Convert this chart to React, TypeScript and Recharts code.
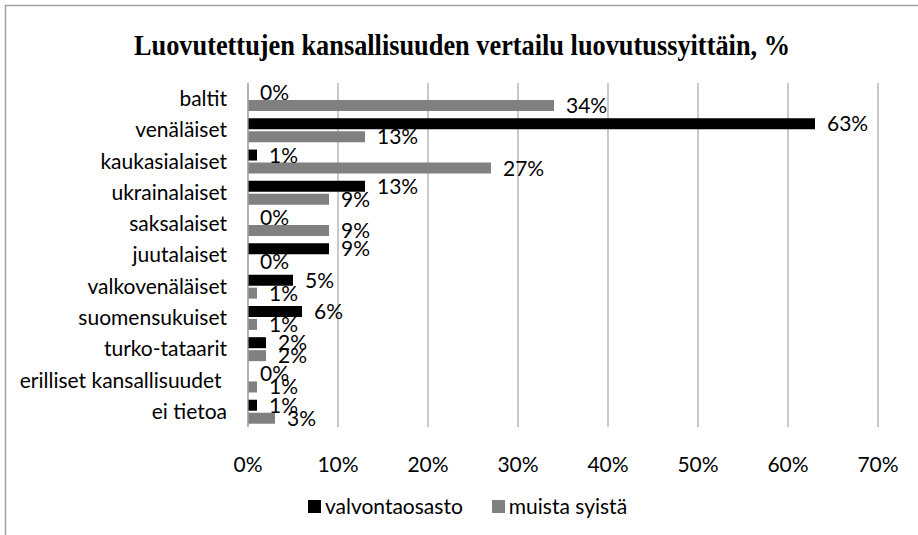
import React from 'react';
import { BarChart, Bar, XAxis, YAxis, CartesianGrid, Legend, LabelList } from 'recharts';

const categories = [
  'baltit',
  'venäläiset',
  'kaukasialaiset',
  'ukrainalaiset',
  'saksalaiset',
  'juutalaiset',
  'valkovenäläiset',
  'suomensukuiset',
  'turko-tataarit',
  'erilliset kansallisuudet\u00a0',
  'ei tietoa',
];
const valvontaosasto = [0, 63, 1, 13, 0, 9, 5, 6, 2, 0, 1];
const muistaSyista = [34, 13, 27, 9, 9, 0, 1, 1, 2, 1, 3];
const xTicks = [0, 10, 20, 30, 40, 50, 60, 70];
const seriesNames = ['valvontaosasto', 'muista syistä'];
const titleText = 'Luovutettujen kansallisuuden vertailu luovutussyittäin, %';

const data = categories.map((name, i) => ({
  name,
  valvontaosasto: valvontaosasto[i],
  muista: muistaSyista[i],
}));

const FONT = 'Lato, "Open Sans", sans-serif';
const FS = 21;

const renderLegend = (props: any) => {
  const payload = [...(props.payload || [])].sort(
    (a: any, b: any) => seriesNames.indexOf(a.value) - seriesNames.indexOf(b.value)
  );
  return (
    <div
      style={{
        display: 'flex',
        justifyContent: 'center',
        alignItems: 'center',
        fontFamily: FONT,
        fontSize: FS,
        color: '#000',
        lineHeight: '26px',
      }}
    >
      {payload.map((entry: any, i: number) => (
        <div key={i} style={{ display: 'flex', alignItems: 'center', marginLeft: i === 0 ? 0 : 29 }}>
          <span style={{ display: 'inline-block', width: 13, height: 13, background: entry.color, marginRight: 4 }} />
          <span>{entry.value}</span>
        </div>
      ))}
    </div>
  );
};

export default function App() {
  return (
    <div style={{ position: 'absolute', left: 0, top: 0, width: 918, height: 535, background: '#fff' }}>
      <svg width={918} height={535} style={{ position: 'absolute', left: 0, top: 0 }}>
        <path d="M5.5 535 V5.5 H918" fill="none" stroke="#a0a0a0" strokeWidth={1.5} />
        <text
          x={134}
          y={55}
          textLength={656}
          lengthAdjust="spacingAndGlyphs"
          fontFamily='"Liberation Serif", "Times New Roman", serif'
          fontWeight="bold"
          fontSize={30}
          fill="#000"
        >
          {titleText}
        </text>
      </svg>
      <div style={{ position: 'absolute', left: 0, top: 0 }}>
        <BarChart
          width={918}
          height={535}
          data={data}
          layout="vertical"
          margin={{ top: 83, right: 40, left: 0, bottom: 48 }}
          barSize={11}
          barGap={2}
        >
          <CartesianGrid horizontal={false} vertical={true} stroke="#a6a6a6" strokeWidth={1.2} />
          <XAxis
            type="number"
            domain={[0, 70]}
            ticks={xTicks}
            tickFormatter={(v: number) => `${v}%`}
            axisLine={false}
            tickLine={false}
            tickSize={0}
            tickMargin={30}
            height={60}
            interval={0}
            tick={{ fontFamily: FONT, fontSize: FS, fill: '#000' }}
          />
          <YAxis
            type="category"
            dataKey="name"
            width={248}
            axisLine={{ stroke: '#a6a6a6', strokeWidth: 1.2 }}
            tickLine={false}
            tickSize={0}
            tickMargin={21}
            interval={0}
            tick={{ fontFamily: FONT, fontSize: FS, fill: '#000' }}
          />
          <Legend
            verticalAlign="middle"
            layout="horizontal"
            align="center"
            content={renderLegend}
            wrapperStyle={{ top: 493, left: 0, width: 935, height: 26 }}
          />
          <Bar
            dataKey="valvontaosasto"
            name={seriesNames[0]}
            fill="#000000"
            minPointSize={0.01}
            isAnimationActive={false}
          >
            <LabelList
              dataKey="valvontaosasto"
              position="right"
              offset={12}
              formatter={(v: any) => `${v}%`}
              style={{ fontFamily: FONT, fontSize: FS, fill: '#000' }}
            />
          </Bar>
          <Bar
            dataKey="muista"
            name={seriesNames[1]}
            fill="#808080"
            minPointSize={0.01}
            isAnimationActive={false}
          >
            <LabelList
              dataKey="muista"
              position="right"
              offset={12}
              formatter={(v: any) => `${v}%`}
              style={{ fontFamily: FONT, fontSize: FS, fill: '#000' }}
            />
          </Bar>
        </BarChart>
      </div>
    </div>
  );
}
